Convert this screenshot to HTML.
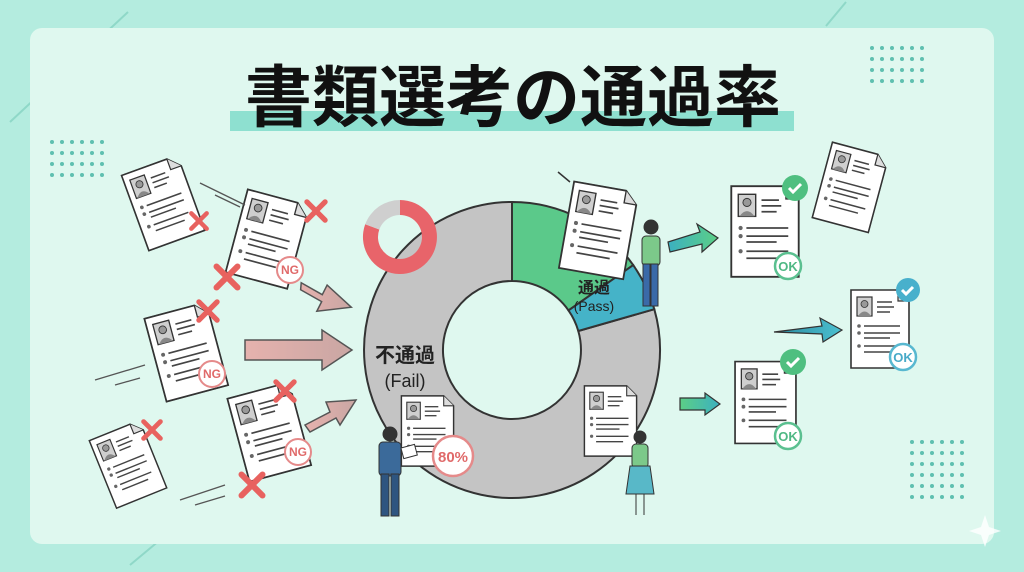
<!DOCTYPE html>
<html><head><meta charset="utf-8"><style>
html,body{margin:0;padding:0;background:#b4ecdf;}
svg{display:block;}
text{font-family:"Liberation Sans","Noto Sans CJK JP",sans-serif;}
</style></head><body>
<svg width="1024" height="572" viewBox="0 0 1024 572" xmlns="http://www.w3.org/2000/svg">
<defs>
<symbol id="doc" viewBox="0 0 60 80">
<path d="M1,1 H48 L59,12 V79 H1 Z" fill="#fff" stroke="#333" stroke-width="1.6"/>
<path d="M48,1 V12 H59" fill="#ddd" stroke="#333" stroke-width="1.2"/>
<rect x="7" y="8" width="15" height="19" fill="#cfcfcf" stroke="#333" stroke-width="1.2"/>
<circle cx="14.5" cy="15" r="3.5" fill="#999" stroke="#333" stroke-width=".8"/>
<path d="M8,27 Q14.5,18 21,27" fill="#888"/>
<g stroke="#444" stroke-width="1.5"><line x1="27" y1="13" x2="42" y2="13"/><line x1="27" y1="18" x2="44" y2="18"/><line x1="27" y1="23" x2="40" y2="23"/>
<line x1="14" y1="37" x2="50" y2="37"/><line x1="14" y1="44" x2="50" y2="44"/><line x1="14" y1="49" x2="40" y2="49"/><line x1="14" y1="57" x2="50" y2="57"/><line x1="14" y1="63" x2="44" y2="63"/></g>
<g fill="#666"><circle cx="9" cy="37" r="1.8"/><circle cx="9" cy="44" r="1.8"/><circle cx="9" cy="57" r="1.8"/></g>
</symbol>
<symbol id="x" viewBox="0 0 20 20"><g stroke="#e8625f" stroke-width="4" stroke-linecap="round"><line x1="3" y1="3" x2="17" y2="17"/><line x1="17" y1="3" x2="3" y2="17"/></g></symbol>
<linearGradient id="ga" x1="0" x2="1"><stop offset="0" stop-color="#e6b2ae"/><stop offset="1" stop-color="#c9a6a3"/></linearGradient>
<linearGradient id="gg" x1="0" x2="1"><stop offset="0" stop-color="#3bb0c0"/><stop offset="1" stop-color="#5ccf86"/></linearGradient>
<linearGradient id="gt" x1="0" x2="1"><stop offset="0" stop-color="#2a8aa0"/><stop offset="1" stop-color="#4cc0d0"/></linearGradient>
<linearGradient id="gg2" x1="0" x2="1"><stop offset="0" stop-color="#5ccf86"/><stop offset="1" stop-color="#3bb0c0"/></linearGradient>
</defs>
<rect width="1024" height="572" fill="#b4ecdf"/>
<line x1="10" y1="122" x2="128" y2="12" stroke="#8fd8c8" stroke-width="2"/>
<line x1="60" y1="60" x2="85" y2="38" stroke="#8fd8c8" stroke-width="2"/>
<line x1="826" y1="26" x2="846" y2="2" stroke="#8fd8c8" stroke-width="2"/>
<line x1="130" y1="565" x2="160" y2="540" stroke="#8fd8c8" stroke-width="2"/>
<rect x="30" y="28" width="964" height="516" rx="12" fill="#dff8ef"/>
<g fill="#5fc0b0">
<g id="dg1"><circle cx="52" cy="142" r="2"/><circle cx="62" cy="142" r="2"/><circle cx="72" cy="142" r="2"/><circle cx="82" cy="142" r="2"/><circle cx="92" cy="142" r="2"/><circle cx="102" cy="142" r="2"/></g>
<use href="#dg1" y="11"/><use href="#dg1" y="22"/><use href="#dg1" y="33"/>
<g transform="translate(820,-94)"><use href="#dg1"/><use href="#dg1" y="11"/><use href="#dg1" y="22"/><use href="#dg1" y="33"/></g>
<g transform="translate(860,300)"><use href="#dg1"/><use href="#dg1" y="11"/><use href="#dg1" y="22"/><use href="#dg1" y="33"/><use href="#dg1" y="44"/><use href="#dg1" y="55"/></g>
</g>
<rect x="230" y="111" width="564" height="20" fill="#8ee0d0"/>
<text x="513" y="121" font-size="67" font-weight="bold" text-anchor="middle" fill="#111">書類選考の通過率</text>
<g stroke="#333" stroke-width="2">
<path d="M654.3,309.2 A148,148 0 1 1 512,202 L512,281 A69,69 0 1 0 578.3,331 Z" fill="#c4c4c4"/>
<path d="M512,202 A148,148 0 0 1 633.2,265.1 L568.5,310.4 A69,69 0 0 0 512,281 Z" fill="#5bc98a"/>
<path d="M633.2,265.1 A148,148 0 0 1 654.3,309.2 L578.3,331 A69,69 0 0 0 568.5,310.4 Z" fill="#45b3c8"/>
</g>
<text x="405" y="362" font-size="20" font-weight="bold" text-anchor="middle" fill="#222">不通過</text>
<text x="405" y="387" font-size="18" text-anchor="middle" fill="#222">(Fail)</text>
<text x="594" y="293" font-size="16" font-weight="bold" text-anchor="middle" fill="#222">通過</text>
<text x="594" y="311" font-size="14" text-anchor="middle" fill="#222">(Pass)</text>
<path d="M400,200 A37,37 0 1 1 365.2,224.3 L379.3,229.5 A22,22 0 1 0 400,215 Z" fill="#e8646a"/>
<path d="M365.2,224.3 A37,37 0 0 1 400,200 L400,215 A22,22 0 0 0 379.3,229.5 Z" fill="#cfcfcf"/>
<g stroke="#555" stroke-width="1.5" fill="url(#ga)">
<path d="M245,340 H322 V330 L352,350 L322,370 V360 H245 Z"/>
<path d="M300,285 L322,295 L326,285 L352,305 L318,312 L322,302 L300,292 Z" transform="rotate(5 326 298)"/>
<path d="M305,425 L330,412 L326,402 L356,400 L340,425 L336,418 L310,432 Z"/>
</g>
<use href="#doc" width="62" height="82" transform="translate(120,175) rotate(-20)"/>
<use href="#doc" width="66" height="88" transform="translate(247,188) rotate(15)"/>
<use href="#doc" width="66" height="88" transform="translate(143,318) rotate(-15)"/>
<use href="#doc" width="66" height="88" transform="translate(226,398) rotate(-15)"/>
<use href="#doc" width="56" height="75" transform="translate(88,440) rotate(-22)"/>
<g fill="#fff" stroke="#e58a8a" stroke-width="2">
<circle cx="290" cy="270" r="13"/><circle cx="212" cy="374" r="13"/><circle cx="298" cy="452" r="13"/></g>
<g font-size="12" font-weight="bold" fill="#e06a6a" text-anchor="middle"><text x="290" y="274">NG</text><text x="212" y="378">NG</text><text x="298" y="456">NG</text></g>
<use href="#x" x="188" y="210" width="22" height="22"/>
<use href="#x" x="303" y="198" width="26" height="26"/>
<use href="#x" x="212" y="262" width="30" height="30"/>
<use href="#x" x="195" y="298" width="26" height="26"/>
<use href="#x" x="272" y="378" width="26" height="26"/>
<use href="#x" x="140" y="418" width="24" height="24"/>
<use href="#x" x="237" y="470" width="30" height="30"/>
<g stroke="#555" stroke-width="1.3">
<line x1="200" y1="183" x2="245" y2="205"/><line x1="215" y1="195" x2="240" y2="207"/>
<line x1="95" y1="380" x2="145" y2="365"/><line x1="115" y1="385" x2="140" y2="378"/>
<line x1="180" y1="500" x2="225" y2="485"/><line x1="195" y1="505" x2="225" y2="496"/>
</g>
<use href="#doc" width="70" height="90" transform="translate(572,180) rotate(10)"/>
<use href="#doc" width="55" height="72" x="400" y="395"/>
<use href="#doc" width="55" height="72" x="583" y="385"/>
<circle cx="453" cy="456" r="20" fill="#fff" stroke="#e58a8a" stroke-width="2.5"/>
<text x="453" y="462" font-size="15" font-weight="bold" fill="#e06a6a" text-anchor="middle">80%</text>
<line x1="558" y1="172" x2="570" y2="182" stroke="#333" stroke-width="1.5"/>
<g stroke="#333" stroke-width="1">
<circle cx="390" cy="434" r="7" fill="#333"/>
<rect x="379" y="442" width="22" height="34" rx="4" fill="#3b6a9a"/>
<rect x="381" y="474" width="8" height="42" fill="#2e5580"/><rect x="391" y="474" width="8" height="42" fill="#2e5580"/>
<rect x="402" y="446" width="14" height="11" fill="#fff" transform="rotate(-15 409 451)"/>
<circle cx="651" cy="227" r="7" fill="#333"/>
<rect x="642" y="236" width="18" height="30" rx="4" fill="#7cc98a"/>
<rect x="643" y="264" width="7" height="42" fill="#3a6aa8"/><rect x="651" y="264" width="7" height="42" fill="#3a6aa8"/>
<circle cx="640" cy="437" r="6" fill="#333"/>
<rect x="632" y="444" width="16" height="24" rx="4" fill="#7cc98a"/>
<path d="M630,466 H650 L654,494 H626 Z" fill="#58b8c8"/>
<line x1="636" y1="494" x2="636" y2="515"/><line x1="644" y1="494" x2="644" y2="515"/>
</g>
<path d="M668,242 L700,232 L697,224 L718,238 L702,252 L702,244 L670,252 Z" fill="url(#gg)" stroke="#333" stroke-width="1.2"/>
<path d="M774,332 L822,326 L820,318 L842,330 L823,342 L822,334 Z" fill="url(#gt)" stroke="#333" stroke-width="1.2"/>
<path d="M680,398 H705 V393 L720,404 L705,415 V410 H680 Z" fill="url(#gg2)" stroke="#333" stroke-width="1.2"/>
<use href="#doc" width="70" height="93" x="730" y="185"/>
<use href="#doc" width="60" height="82" transform="translate(832,140) rotate(15)"/>
<use href="#doc" width="60" height="82" x="850" y="288"/>
<use href="#doc" width="63" height="85" x="734" y="360"/>
<g fill="#4fbf80"><circle cx="795" cy="188" r="13"/><circle cx="793" cy="362" r="13"/></g>
<circle cx="908" cy="290" r="12" fill="#48b0cc"/>
<g fill="none" stroke="#fff" stroke-width="3"><path d="M789,188 l4,4 l8,-8"/><path d="M787,362 l4,4 l8,-8"/><path d="M902,290 l4,4 l7,-7"/></g>
<g fill="#fff" stroke-width="2.5"><circle cx="788" cy="266" r="13" stroke="#5bc090"/><circle cx="788" cy="436" r="13" stroke="#5bc090"/><circle cx="903" cy="357" r="13" stroke="#58b8d0"/></g>
<g font-size="13" font-weight="bold" text-anchor="middle"><text x="788" y="271" fill="#4fb884">OK</text><text x="788" y="441" fill="#4fb884">OK</text><text x="903" y="362" fill="#48aac8">OK</text></g>
<path d="M985,515 l4,12 l12,4 l-12,4 l-4,12 l-4,-12 l-12,-4 l12,-4 Z" fill="#fff" opacity=".8"/>
</svg>
</body></html>
